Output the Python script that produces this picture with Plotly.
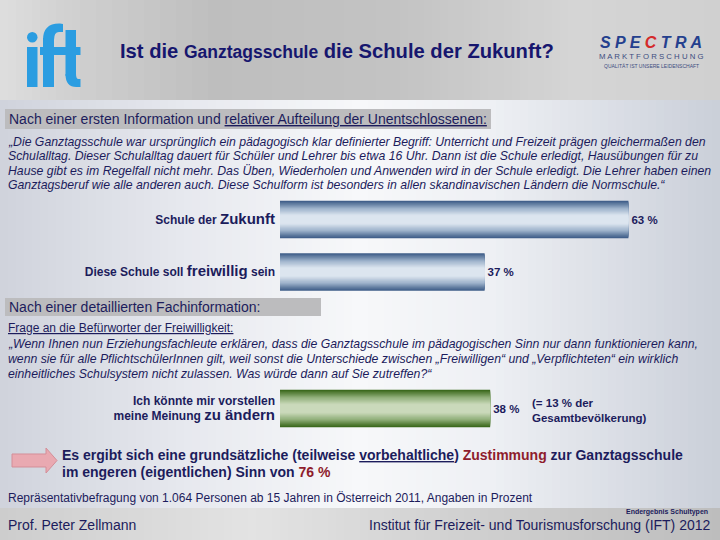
import plotly.graph_objects as go

W, H = 720, 540

# ---------------- data ----------------
categories_first = ["Schule der Zukunft", "Diese Schule soll freiwillig sein"]
values_first = [63, 37]
ticklabels_first = [
    "Schule der <span style='font-size:15px'>Zukunft</span>",
    "Diese Schule soll <span style='font-size:15px'>freiwillig</span> sein",
]
categories_second = ["Ich könnte mir vorstellen meine Meinung zu ändern"]
values_second = [38]
ticklabels_second = [
    "Ich könnte mir vorstellen<br>meine Meinung <span style='font-size:15px'>zu ändern</span>"
]
share_total_population = 13
approval_total = 76

title_text = "Ist die <span style='font-size:17.5px'>Ganztagsschule</span> die Schule der Zukunft?"
section1_text = "Nach einer ersten Information und <u>relativer Aufteilung der Unentschlossenen:</u>"
quote1_lines = [
    "„Die Ganztagsschule war ursprünglich ein pädagogisch klar definierter Begriff: Unterricht und Freizeit prägen gleichermaßen den",
    "Schulalltag. Dieser Schulalltag dauert für Schüler und Lehrer bis etwa 16 Uhr. Dann ist die Schule erledigt, Hausübungen für zu",
    "Hause gibt es im Regelfall nicht mehr. Das Üben, Wiederholen und Anwenden wird in der Schule erledigt. Die Lehrer haben einen",
    "Ganztagsberuf wie alle anderen auch. Diese Schulform ist besonders in allen skandinavischen Ländern die Normschule.“",
]
section2_text = "Nach einer detaillierten Fachinformation:"
question_text = "<u>Frage an die Befürworter der Freiwilligkeit:</u>"
quote2_lines = [
    "„Wenn Ihnen nun Erziehungsfachleute erklären, dass die Ganztagsschule im pädagogischen Sinn nur dann funktionieren kann,",
    "wenn sie für alle PflichtschülerInnen gilt, weil sonst die Unterschiede zwischen „Freiwilligen“ und „Verpflichteten“ ein wirklich",
    "einheitliches Schulsystem nicht zulassen. Was würde dann auf Sie zutreffen?“",
]
source_text = "Repräsentativbefragung von 1.064 Personen ab 15 Jahren in Österreich 2011, Angaben in Prozent"
footer_left = "Prof. Peter Zellmann"
footer_right = "Institut für Freizeit- und Tourismusforschung (IFT) 2012"
footer_small = "Endergebnis Schultypen"

# ---------------- styling helpers ----------------
NAVY = "#1c1c5c"
DARKRED = "#8e1c2c"
SANS = "Liberation Sans, Arial, sans-serif"


def px(x):
    return x / W


def py(y):
    return 1 - y / H


def hex2rgb(h):
    h = h.lstrip("#")
    return tuple(int(h[i:i + 2], 16) for i in (0, 2, 4))


def lerp(c1, c2, t):
    a, b = hex2rgb(c1), hex2rgb(c2)
    return "#%02x%02x%02x" % tuple(int(round(a[i] + (b[i] - a[i]) * t)) for i in range(3))


def interp(stops, t):
    for (t0, c0), (t1, c1) in zip(stops[:-1], stops[1:]):
        if t0 <= t <= t1:
            return lerp(c0, c1, (t - t0) / (t1 - t0) if t1 > t0 else 0)
    return stops[-1][1]


shapes = []


def rect(x0, y0, x1, y1, color):
    shapes.append(dict(type="rect", xref="paper", yref="paper", layer="below",
                       x0=px(x0), x1=px(x1), y0=py(y1), y1=py(y0),
                       fillcolor=color, line=dict(width=0)))


def hgrad(y0, y1, stops, n=90):
    for i in range(n):
        xa = i * W / n
        xb = (i + 1) * W / n + 0.6
        rect(xa, y0, xb, y1, interp(stops, (i + 0.5) / n))


def path(cmds, color, line_color=None):
    # one command letter per coordinate group (plotly ignores implicit repeats)
    s = ""
    for c, pts in cmds:
        if c == "L":
            for x, y in pts:
                s += f"L {px(x):.5f},{py(y):.5f} "
        else:
            s += c + " " + " ".join(f"{px(x):.5f},{py(y):.5f}" for x, y in pts) + " "
    s += "Z"
    shapes.append(dict(type="path", xref="paper", yref="paper", layer="below", path=s,
                       fillcolor=color,
                       line=dict(width=0) if line_color is None else dict(width=1, color=line_color)))


# backgrounds
hgrad(0, 100, [(0, "#dedede"), (0.1, "#d0d0d0"), (0.3, "#bebebe"), (0.55, "#c3c3c3"),
               (0.8, "#d5d5d5"), (1, "#d0d0d0")])
hgrad(100, 508, [(0, "#cfd3dc"), (0.25, "#e6e8ee"), (0.5, "#f7f8fa"), (0.68, "#eef0f4"),
                 (1, "#cacfd9")])
hgrad(508, 540, [(0, "#cdcdcd"), (0.35, "#e3e3e3"), (0.6, "#d3d3d3"), (1, "#bdbdbd")])

# section boxes
rect(5, 109, 491, 129, "#bcbcbe")
rect(5, 298, 321, 316, "#bcbcbe")

# ift logo
BLUE = "#2b9de1"
shapes.append(dict(type="circle", xref="paper", yref="paper", layer="below",
                   x0=px(27), x1=px(37.5), y0=py(42.5), y1=py(32), fillcolor=BLUE, line=dict(width=0)))
rect(27, 47, 37.5, 87, BLUE)
rect(43, 38, 54, 87, BLUE)
path([("M", [(43, 40)]), ("Q", [(43, 23), (60, 23.5)]), ("L", [(63, 24), (63, 32), (59, 32)]),
      ("Q", [(54, 32), (54, 40)])], BLUE)
rect(40, 47, 62, 55, BLUE)
rect(65.5, 30, 76, 76, BLUE)
path([("M", [(65.5, 74)]), ("Q", [(65.5, 88), (78, 87)]), ("L", [(80.5, 87), (80.5, 79), (78.5, 79)]),
      ("Q", [(76, 79), (76, 74)])], BLUE)
rect(61, 47, 80.5, 55, BLUE)

# pink arrow
path([("M", [(12, 454)]), ("L", [(46, 454), (46, 448), (57, 460.5), (46, 473), (46, 467), (12, 467)])],
     "#e9a9b1", "#d48e98")

# ---------------- bars ----------------
S = 5.53          # pixels per percent
X0 = 280          # pixel position of 0 %
BAND = 52.5
BARW = 37.5 / BAND
K = 18


def bar_layers(cats, vals, yaxis, dark, mid, light):
    out = []
    for k in range(K):
        frac = 1 - k / K
        t = min(1.0, (k / (K - 1)) / 0.8)
        col = lerp(dark, mid, t / 0.5) if t < 0.5 else lerp(mid, light, (t - 0.5) / 0.5)
        tr = go.Bar(y=cats, x=vals, orientation="h", width=BARW * frac, yaxis=yaxis, xaxis="x",
                    marker=dict(color=col, line=dict(width=0)), hoverinfo="skip",
                    cliponaxis=False)
        if k == 0:
            tr.update(texttemplate="%{x} %", textposition="outside", constraintext="none",
                      outsidetextfont=dict(family=SANS, size=11.5, color=NAVY, weight="bold"))
        out.append(tr)
    return out


fig = go.Figure()
for tr in bar_layers(categories_first, values_first, "y", "#3f5e88", "#9cb1ca", "#dce5ef"):
    fig.add_trace(tr)
for tr in bar_layers(categories_second, values_second, "y2", "#3a681b", "#8fae78", "#cad9bb"):
    fig.add_trace(tr)

c1, c2 = 219.5, 272
c3 = 408.5
ydom1 = [py(c2 + BAND / 2), py(c1 - BAND / 2)]
ydom2 = [py(c3 + BAND / 2), py(c3 - BAND / 2)]

tickfont = dict(family=SANS, size=12, color=NAVY, weight="bold")

fig.update_layout(
    width=W, height=H, margin=dict(l=0, r=0, t=0, b=0),
    paper_bgcolor="#e6e8ec", plot_bgcolor="rgba(0,0,0,0)",
    barmode="overlay", showlegend=False, hovermode=False,
    xaxis=dict(range=[-X0 / S, (W - X0) / S], visible=False, fixedrange=True, domain=[0, 1]),
    yaxis=dict(type="category", domain=ydom1, range=[1.5, -0.5], anchor="free", position=px(X0),
               showgrid=False, zeroline=False, showline=False, ticks="",
               tickmode="array", tickvals=categories_first, ticktext=ticklabels_first,
               tickfont=tickfont, ticklabelstandoff=5, fixedrange=True),
    yaxis2=dict(type="category", domain=ydom2, range=[0.5, -0.5], anchor="free", position=px(X0),
                showgrid=False, zeroline=False, showline=False, ticks="",
                tickmode="array", tickvals=categories_second, ticktext=ticklabels_second,
                tickfont=tickfont, ticklabelstandoff=5, fixedrange=True),
    shapes=shapes,
)

ann = []


def text(x, y, s, size, family=SANS, color=NAVY, anchor="left", bold=False, italic=False, align="left"):
    ann.append(dict(x=px(x), y=py(y), xref="paper", yref="paper", text=s, showarrow=False,
                    xanchor=anchor, yanchor="middle", align=align,
                    font=dict(family=family, size=size, color=color,
                              weight="bold" if bold else "normal",
                              style="italic" if italic else "normal")))


text(118, 51, title_text, 20.2, color="#16166e", bold=True)
text(651, 43, "S P E <span style='color:#d42a2a'>C</span> T R A", 16, color="#24408e",
     anchor="center", bold=True, italic=True)
text(651, 57, "M A R K T F O R S C H U N G", 7.8, color="#3c4c80", anchor="center")
text(651, 66, "QUALITÄT IST UNSERE LEIDENSCHAFT", 5, color="#3c4c80", anchor="center")

text(7, 119, section1_text, 14)
for yy, line in zip([141.5, 156, 170.5, 185], quote1_lines):
    text(6, yy, line, 12.25, italic=True)
text(7, 307, section2_text, 14)
text(6, 328, question_text, 12)
for yy, line in zip([344, 359, 374], quote2_lines):
    text(6, yy, line, 12.25, italic=True)

text(530, 410, f"(= {share_total_population} % der<br>Gesamtbevölkerung)", 11.5, bold=True)

text(60, 455, "Es ergibt sich eine grundsätzliche (teilweise <u>vorbehaltliche</u>) "
              f"<span style='color:{DARKRED}'>Zustimmung</span> zur Ganztagsschule", 14, bold=True)
text(60, 472, f"im engeren (eigentlichen) Sinn von <span style='color:{DARKRED}'>{approval_total} %</span>",
     14, bold=True)

text(6, 498, source_text, 12)
text(710, 512, footer_small, 7, anchor="right", bold=True)
text(6, 525, footer_left, 14)
text(713, 525, footer_right, 14, anchor="right")

fig.update_layout(annotations=ann)
fig.write_html("out.html", config={"displayModeBar": False},
               post_script="document.body.style.margin='0';document.body.style.overflow='hidden';")
